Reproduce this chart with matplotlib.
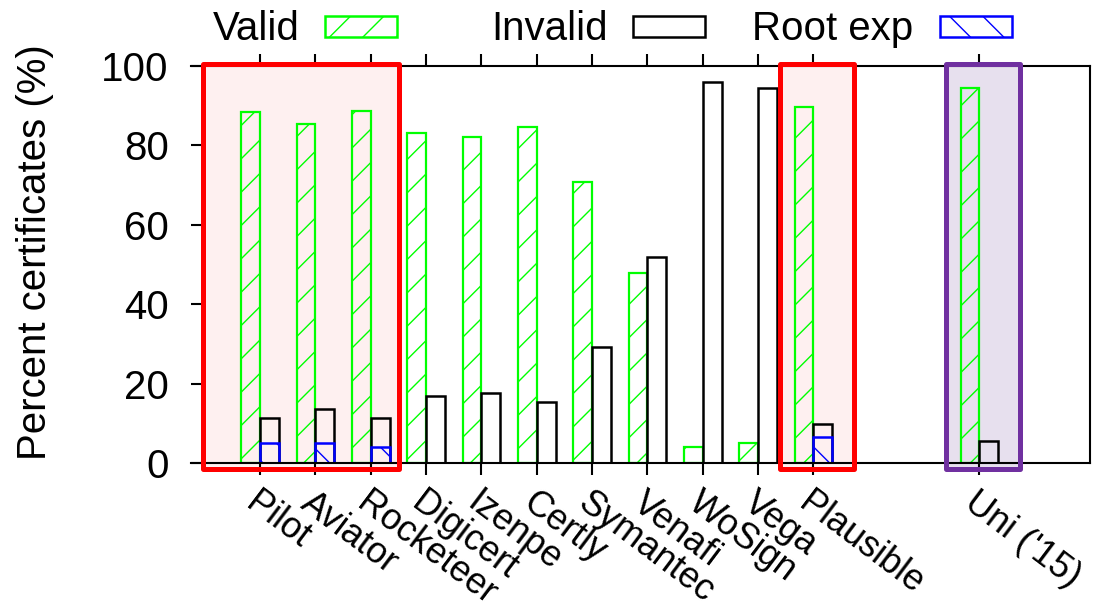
import matplotlib
matplotlib.use("Agg")
import matplotlib.pyplot as plt
from matplotlib.patches import Rectangle
import matplotlib.transforms as mtransforms

# Certificate validity per log / dataset
logs = ["Pilot", "Aviator", "Rocketeer", "Digicert", "Izenpe", "Certly",
        "Symantec", "Venafi", "WoSign", "Vega", "Plausible", "Uni ('15)"]
valid = [88.5, 85.4, 88.7, 83.0, 82.2, 84.7, 70.9, 47.9, 4.0, 5.0, 89.7, 94.4]
invalid = [11.4, 13.7, 11.4, 17.0, 17.7, 15.4, 29.3, 52.0, 96.0, 94.4, 9.7, 5.6]
root_exp = [5.0, 5.0, 4.0, 0, 0, 0, 0, 0, 0, 0, 6.5, 0]
yticks = [0, 20, 40, 60, 80, 100]

plt.rcParams['font.family'] = ['Liberation Sans', 'DejaVu Sans']
plt.rcParams['hatch.linewidth'] = 1.0

W, H = 1099, 615
fig = plt.figure(figsize=(W / 100, H / 100), dpi=100)
ax = fig.add_axes([191 / W, 1 - 463 / H, (1090 - 191) / W, (463 - 66) / H])

# the last dataset sits apart from the CT logs
xpos = list(range(len(logs) - 1)) + [len(logs) + 1]
bw = 0.34

GREEN = "#00ff00"
BLUE = "#0000ff"

# highlighted groups: background fill behind bars, frame on top
groups = [(-1.03, 2.51, "#ff0000", "#fef0f0"),
          (9.39, 10.74, "#ff0000", "#fef0f0"),
          (12.39, 13.73, "#7030a0", "#e7e0ee")]
for x0, x1, ec, fc in groups:
    ax.add_patch(Rectangle((x0, -1.5), x1 - x0, 102.0, facecolor=fc,
                           edgecolor="none", zorder=0, clip_on=False))
    ax.add_patch(Rectangle((x0, -1.5), x1 - x0, 102.0, facecolor="none",
                           edgecolor=ec, linewidth=3.6, joinstyle="round",
                           zorder=10, clip_on=False))

ax.bar([p - bw for p in xpos], valid, width=bw, align="edge",
       facecolor="none", edgecolor=GREEN, linewidth=1.6, hatch="/", zorder=3)
ax.bar(xpos, invalid, width=bw, align="edge",
       facecolor="none", edgecolor="black", linewidth=1.8, zorder=3)
rx = [p for p, v in zip(xpos, root_exp) if v > 0]
rv = [v for v in root_exp if v > 0]
ax.bar(rx, rv, width=bw, align="edge",
       facecolor="none", edgecolor=BLUE, linewidth=1.8, hatch="\\", zorder=4)

ax.set_xlim(-1.25, 15)
ax.set_ylim(0, 100)
ax.set_yticks(yticks)
ax.set_yticklabels([str(t) for t in yticks])
ax.set_xticks(xpos)
ax.set_xticklabels([])

for side in ("top", "right", "bottom"):
    ax.spines[side].set_linewidth(1.5)
    ax.spines[side].set_zorder(5)
ax.spines["left"].set_visible(False)

ax.tick_params(axis="x", direction="out", length=8.5, width=1.5,
               top=True, bottom=True)
ax.tick_params(axis="y", direction="in", length=7, width=1.5,
               labelsize=29, pad=16, right=False)

# rotated category labels hanging below each tick
off = mtransforms.ScaledTranslation(0 / 100, -22 / 100, fig.dpi_scale_trans)
for p, name in zip(xpos, logs):
    ax.text(p, 0, name, transform=ax.get_xaxis_transform() + off,
            rotation=-37, rotation_mode="anchor", ha="left", va="top",
            fontsize=26)

fig.text(35 / W, 1 - 252 / H, "Percent certificates (%)", rotation=90,
         ha="center", va="center", fontsize=29)

# key along the top
def fx(px):
    return px / W

def fy(py):
    return 1 - py / H

key = [("Valid", 300, 325, GREEN, "/"),
       ("Invalid", 608, 633, "black", None),
       ("Root exp", 913, 940, BLUE, "\\")]
for label, tx, bx, col, hatch in key:
    fig.text(fx(tx), fy(40), label, ha="right", va="baseline", fontsize=29)
    fig.add_artist(Rectangle((fx(bx), fy(37)), fx(72), 21 / H,
                             transform=fig.transFigure, facecolor="none",
                             edgecolor=col, linewidth=1.8, hatch=hatch))

fig.savefig("out.png", dpi=100)
